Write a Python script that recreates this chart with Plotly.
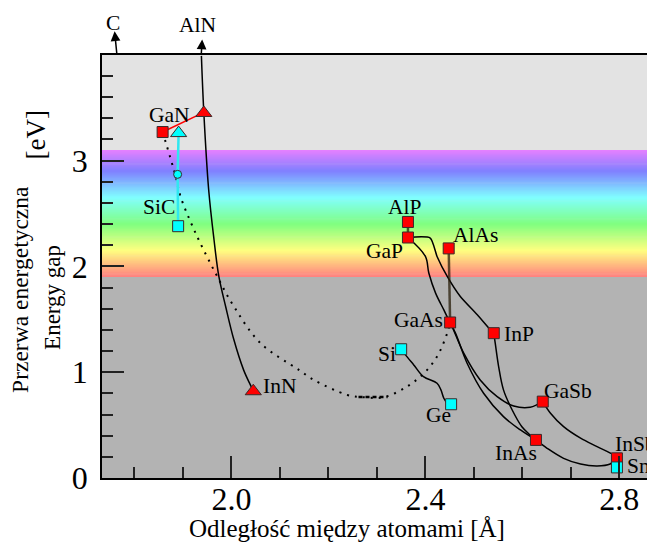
import colorsys
import plotly.graph_objects as go

# ---------------- data ----------------
# compounds: bond length [Å], energy gap [eV]
red_sq_names = ["GaN", "AlP", "GaP", "AlAs", "GaAs", "InP", "GaSb", "InAs", "InSb"]
red_sq_x = [1.858, 2.364, 2.364, 2.448, 2.451, 2.541, 2.642, 2.628, 2.795]
red_sq_y = [3.27, 2.42, 2.273, 2.17, 1.47, 1.369, 0.722, 0.36, 0.186]

red_tri_names = ["AlN", "InN"]
red_tri_x = [1.943, 2.045]
red_tri_y = [3.45, 0.82]

cyan_sq_names = ["SiC", "Si", "Ge", "Sn"]
cyan_sq_x = [1.890, 2.350, 2.453, 2.795]
cyan_sq_y = [2.38, 1.217, 0.697, 0.10]

cyan_tri_x = [1.891]
cyan_tri_y = [3.26]
cyan_circ_x = [1.889]
cyan_circ_y = [2.87]

# alloy curves
aln_inn_x = [1.938, 1.943, 1.953, 1.964, 1.974, 1.988, 2.005, 2.025, 2.039, 2.045]
aln_inn_y = [3.99, 3.456, 2.725, 2.252, 1.905, 1.621, 1.306, 1.022, 0.880, 0.823]

gan_gaas_x = [1.858, 1.885, 1.895, 1.926, 1.967, 2.005, 2.060, 2.139, 2.170,
              2.239, 2.273, 2.314, 2.362, 2.397, 2.424, 2.445, 2.451]
gan_gaas_y = [3.27, 2.85, 2.66, 2.315, 1.937, 1.621, 1.274, 1.022, 0.927,
              0.785, 0.763, 0.763, 0.864, 0.99, 1.148, 1.369, 1.47]

gan_gaas_dense_x = [2.262, 2.322]
gan_gaas_dense_y = [0.766, 0.766]

sic_x = [1.891, 1.889, 1.890]
sic_y = [3.26, 2.87, 2.38]

gan_aln_x = [1.858, 1.943]
gan_aln_y = [3.27, 3.456]

si_ge_x = [2.350, 2.359, 2.376, 2.396, 2.424, 2.432, 2.438, 2.445, 2.453]
si_ge_y = [1.217, 1.164, 1.069, 0.958, 0.896, 0.833, 0.754, 0.707, 0.697]

gap_inp_x = [2.364, 2.410, 2.424, 2.445, 2.472, 2.507, 2.534, 2.541]
gap_inp_y = [2.273, 2.268, 2.094, 1.905, 1.715, 1.542, 1.40, 1.369]

gap_inas_x = [2.364, 2.400, 2.407, 2.421, 2.438, 2.448, 2.462, 2.486, 2.520, 2.561, 2.596, 2.628]
gap_inas_y = [2.273, 2.094, 1.937, 1.747, 1.589, 1.495, 1.369, 1.085, 0.801, 0.580, 0.454, 0.36]

gaas_gasb_x = [2.451, 2.458, 2.479, 2.513, 2.548, 2.582, 2.616, 2.642]
gaas_gasb_y = [1.47, 1.40, 1.18, 0.927, 0.769, 0.681, 0.669, 0.722]

inp_inas_x = [2.541, 2.544, 2.551, 2.561, 2.579, 2.599, 2.616, 2.628]
inp_inas_y = [1.369, 1.274, 1.053, 0.833, 0.643, 0.485, 0.407, 0.36]

gasb_insb_x = [2.642, 2.658, 2.685, 2.720, 2.754, 2.788, 2.795]
gasb_insb_y = [0.722, 0.612, 0.485, 0.376, 0.296, 0.218, 0.186]

inas_insb_x = [2.628, 2.651, 2.685, 2.720, 2.754, 2.781, 2.795]
inas_insb_y = [0.36, 0.281, 0.186, 0.132, 0.114, 0.132, 0.186]

alp_gap_x = [2.364, 2.364]
alp_gap_y = [2.42, 2.273]

alas_gaas_x = [2.448, 2.451]
alas_gaas_y = [2.17, 1.47]

# arrows leaving the top of the plot: C and AlN (tail -> head)
arrow_tail_x = [1.764, 1.9375]
arrow_tail_y = [3.99, 3.99]
arrow_head_x = [1.759, 1.9396]
arrow_head_y = [4.222, 4.144]

# text labels
label_names = ["GaN", "SiC", "InN", "AlP", "GaP", "AlAs", "GaAs", "InP", "Si", "Ge", "GaSb", "InAs"]
label_x = [1.873, 1.851, 2.101, 2.358, 2.316, 2.504, 2.385, 2.593, 2.321, 2.428, 2.694, 2.587]
label_y = [3.43, 2.56, 0.87, 2.56, 2.15, 2.294, 1.49, 1.358, 1.173, 0.591, 0.818, 0.241]
left_label_names = ["InSb", "Sn"]
left_label_x = [2.786, 2.812]
left_label_y = [0.326, 0.118]
top_label_names = ["C", "AlN"]
top_label_px = [0.0196, 0.1767]   # paper coords (outside the axis range)
top_label_py = [1.0757, 1.0709]

# visible-light band and background regions
vis_low, vis_high = 1.9, 3.1
y_min, y_max = 0.0, 3.998
x_min, x_max = 1.733, 2.857

FONT = "Liberation Serif"
RED = "#ff0000"
CYAN = "#00ffff"
EDGE = "#3a2a2a"

fig = go.Figure()

# background shapes
shapes = [dict(type="rect", xref="paper", yref="y", x0=0, x1=1, y0=y_min, y1=vis_low,
               fillcolor="#b3b3b3", line_width=0, layer="below")]
n_bands = 120
step = (vis_high - vis_low) / n_bands
for i in range(n_bands):
    y0 = vis_low + i * step
    hue = (y0 + step / 2 - vis_low) * 240.0
    r, g, b = colorsys.hsv_to_rgb(hue / 360.0, 0.5, 1.0)
    col = "rgb(%d,%d,%d)" % (round(r * 255), round(g * 255), round(b * 255))
    shapes.append(dict(type="rect", xref="paper", yref="y", x0=0, x1=1,
                       y0=y0, y1=min(y0 + step * 1.6, vis_high),
                       fillcolor=col, line_width=0, layer="below"))


def line(x, y, color="black", width=1.5, dash=None, shape="spline", smoothing=1.0):
    ln = dict(color=color, width=width, shape=shape)
    if shape == "spline":
        ln["smoothing"] = smoothing
    if dash:
        ln["dash"] = dash
    fig.add_trace(go.Scatter(x=x, y=y, mode="lines", line=ln, hoverinfo="skip", showlegend=False))


line(gan_gaas_x, gan_gaas_y, width=2, dash="2px,6px")
line(gan_gaas_dense_x, gan_gaas_dense_y, width=2.5, dash="4px,3px", shape="linear")
line(aln_inn_x, aln_inn_y)
line(sic_x, sic_y, color="#30e8f0", width=2.5, shape="linear")
line(gan_aln_x, gan_aln_y, color=RED, width=1.5, shape="linear")
line(si_ge_x, si_ge_y)
line(gap_inp_x, gap_inp_y, smoothing=0.6)
line(gap_inas_x, gap_inas_y)
line(gaas_gasb_x, gaas_gasb_y)
line(inp_inas_x, inp_inas_y)
line(gasb_insb_x, gasb_insb_y)
line(inas_insb_x, inas_insb_y)
line(alp_gap_x, alp_gap_y, color="rgba(40,30,10,0.75)", width=2.5, shape="linear")
line(alas_gaas_x, alas_gaas_y, color="rgba(40,30,10,0.75)", width=2.5, shape="linear")


def markers(x, y, symbol, color, size):
    fig.add_trace(go.Scatter(x=x, y=y, mode="markers", cliponaxis=False,
                             marker=dict(symbol=symbol, color=color, size=size,
                                         line=dict(color=EDGE, width=1)),
                             hoverinfo="skip", showlegend=False))


markers(red_sq_x, red_sq_y, "square", RED, 11)
markers(red_tri_x, red_tri_y, "triangle-up", RED, 14)
markers(cyan_sq_x, cyan_sq_y, "square", CYAN, 11)
markers(cyan_tri_x, cyan_tri_y, "triangle-up", CYAN, 14)
markers(cyan_circ_x, cyan_circ_y, "circle", CYAN, 8)

LBL = dict(family=FONT, size=21.5, color="black")
annotations = []
for n, xx, yy in zip(label_names, label_x, label_y):
    annotations.append(dict(x=xx, y=yy, xref="x", yref="y", text=n, showarrow=False,
                            font=LBL, xanchor="center", yanchor="middle"))
for n, xx, yy in zip(left_label_names, left_label_x, left_label_y):
    annotations.append(dict(x=xx, y=yy, xref="x", yref="y", text=n, showarrow=False,
                            font=LBL, xanchor="left", yanchor="middle"))
for n, xx, yy in zip(top_label_names, top_label_px, top_label_py):
    annotations.append(dict(x=xx, y=yy, xref="paper", yref="paper", text=n, showarrow=False,
                            font=LBL, xanchor="center", yanchor="middle"))

for hx, hy, tx, ty in zip(arrow_head_x, arrow_head_y, arrow_tail_x, arrow_tail_y):
    annotations.append(dict(x=hx, y=hy, ax=tx, ay=ty, xref="x", yref="y", axref="x", ayref="y",
                            text="", showarrow=True, arrowhead=2, arrowsize=1.3, arrowwidth=1.5,
                            arrowcolor="black"))

# axis titles
def title(text, x, y, size, angle=0):
    annotations.append(dict(x=x, y=y, xref="paper", yref="paper", text=text, showarrow=False,
                            textangle=angle, xanchor="center", yanchor="middle",
                            font=dict(family=FONT, size=size, color="black")))


title("[eV]", -0.122, 0.811, 27, -90)
title("Przerwa energetyczna", -0.1505, 0.447, 23.5, -90)
title("Energy gap", -0.0908, 0.427, 23, -90)
title("Odległość między atomami [Å]", 0.449, -0.12, 25)

fig.update_layout(
    width=647, height=542,
    margin=dict(l=102, r=0, t=55, b=64),
    paper_bgcolor="white",
    plot_bgcolor="#e3e3e3",
    shapes=shapes,
    annotations=annotations,
    showlegend=False,
    font=dict(family=FONT, color="black"),
    xaxis=dict(range=[x_min, x_max], showgrid=False, zeroline=False,
               showline=True, linecolor="black", linewidth=1.5, mirror=True,
               ticks="inside", ticklen=22, tickwidth=1.5, tickcolor="#222",
               tick0=0, dtick=0.4, tickformat=".1f", ticklabelstandoff=-8,
               tickfont=dict(family=FONT, size=32, color="black"),
               minor=dict(ticks="inside", dtick=0.1, ticklen=11, tickwidth=1.5, tickcolor="#222")),
    yaxis=dict(range=[y_min, y_max], showgrid=False, zeroline=False,
               showline=True, linecolor="black", linewidth=1.5,
               ticks="inside", ticklen=22, tickwidth=1.5, tickcolor="#222",
               tick0=0, dtick=1, ticklabelstandoff=6,
               tickfont=dict(family=FONT, size=32, color="black"),
               minor=dict(ticks="inside", dtick=0.2, ticklen=11, tickwidth=1.5, tickcolor="#222")),
)

fig.write_html("out.html", config={"displayModeBar": False},
               post_script="document.body.style.margin='0';")
